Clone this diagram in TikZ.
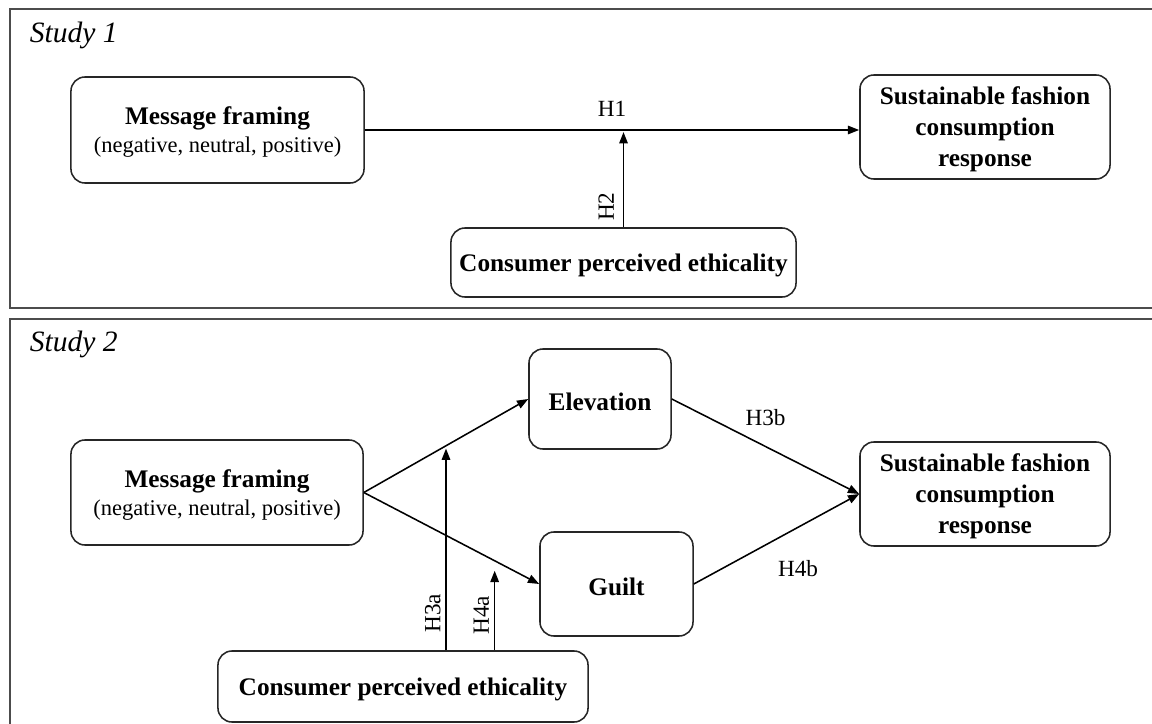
\documentclass[tikz,border=0pt]{standalone}
\usepackage{fontspec}
\setmainfont{Liberation Serif}
\usetikzlibrary{arrows.meta,calc,positioning}

\begin{document}
\begin{tikzpicture}
	[	x=0.025cm,y=-0.025cm,
	lift/.style={execute at begin node={\rule{0pt}{#1}}},
	box/.style={rectangle,rounded corners=10pt,draw=black!85,line width=1.1pt,align=center,font=\fontsize{18}{22}\selectfont\bfseries,lift=16pt},
	panel/.style={draw=black!70,line width=1.4pt},
	hyp/.style={font=\fontsize{16.5}{19}\selectfont},
	study/.style={font=\fontsize{21}{24}\selectfont\itshape,anchor=west},
	link/.style={->,line width=1.1pt},
	>={Triangle[length=8pt,width=6pt]}
	]
	\useasboundingbox (0,0) rectangle (1152,724);
	\draw[panel] (10,9) rectangle (1170,308);
	\draw[panel] (10,319) rectangle (1170,740);

	% study 1
	\node[study] (s1) at (25,35) {Study 1};
	\node[box,text depth=-5pt,minimum width=7.325cm,minimum height=2.65cm] (mf1) at (217.5,130)
		{Message framing\\[-2pt]{\fontsize{16}{20}\selectfont\mdseries (negative, neutral, positive)}};
	\node[box,text depth=-2.4pt,minimum width=6.25cm,minimum height=2.6cm] (sf1) at (985,127)
		{Sustainable fashion\\consumption\\response};
	\node[box,minimum width=8.625cm,minimum height=1.725cm] (ce1) at (623.5,262.5)
		{Consumer perceived ethicality};

	\draw[link] (mf1.east) -- node[hyp,above,yshift=2mm]{H1} (mf1.east -| sf1.west);
	\draw[link,shorten >=1.5pt] (ce1.north) -- node[hyp,pos=0.21,sloped,above=3pt]{H2} (ce1.north |- mf1.east);

	% study 2
	\node[study] (s2) at (25,344) {Study 2};
	\node[box,text depth=-5pt,minimum width=7.3cm,minimum height=2.625cm] (mf2) at (217,492.5)
		{Message framing\\[-2pt]{\fontsize{16}{20}\selectfont\mdseries (negative, neutral, positive)}};
	\node[box,minimum width=3.55cm,minimum height=2.5cm] (el) at (600,399) {Elevation};
	\node[box,minimum width=3.825cm,minimum height=2.6cm] (gu) at (616.5,584) {Guilt};
	\node[box,text depth=-2.4pt,minimum width=6.25cm,minimum height=2.6cm] (sf2) at (985,494)
		{Sustainable fashion\\consumption\\response};
	\node[box,minimum width=9.25cm,minimum height=1.775cm] (ce2) at (403,686.5)
		{Consumer perceived ethicality};

	\draw[link] (mf2.east) -- (el.west);
	\draw[link] (mf2.east) -- (gu.west);
	\draw[link] (el.east) -- node[hyp,above,yshift=3.9mm]{H3b} (sf2.west);
	\draw[link] (gu.east) -- node[hyp,pos=0.63,below,yshift=-7mm]{H4b} (sf2.west);

	\coordinate (m3) at ($(mf2.east)!0.5!(el.west)$);
	\coordinate (m4) at ($(mf2.east)!0.746!(gu.west)+(0,10)$);
	\draw[link,shorten >=2pt] (m3 |- ce2.north) -- node[hyp,pos=0.18,sloped,above]{H3a} (m3);
	\draw[link] (m4 |- ce2.north) -- node[hyp,pos=0.44,sloped,above]{H4a} (m4);
\end{tikzpicture}
\end{document}
